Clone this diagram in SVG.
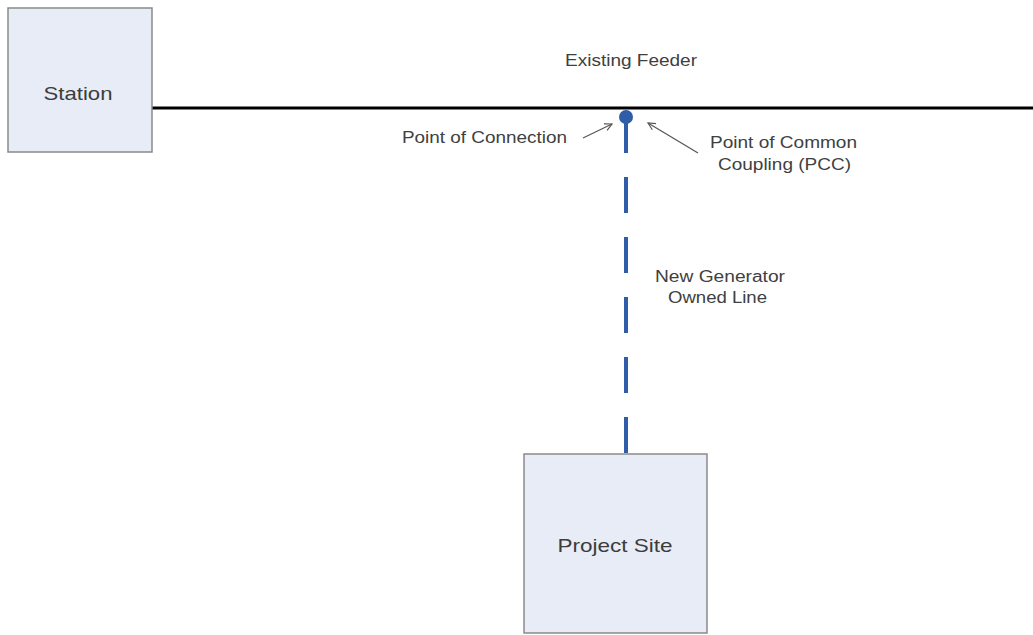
<svg xmlns="http://www.w3.org/2000/svg" width="1033" height="635" viewBox="0 0 1033 635">
  <style>
    .box { fill: #E8ECF6; stroke: #8A8A8A; stroke-width: 1.5; }
    .boxtext { font-family: "Liberation Sans", Arial, sans-serif; font-size: 19px; fill: #3C3C3C; text-anchor: middle; }
    .lbl { font-family: "Liberation Sans", Arial, sans-serif; font-size: 16px; fill: #404040; }
    .ptr { stroke: #555555; stroke-width: 1.2; fill: none; marker-end: url(#open); }
  </style>
  <defs>
    <marker id="open" viewBox="0 0 10 10" refX="9" refY="5" markerWidth="9" markerHeight="9" markerUnits="userSpaceOnUse" orient="auto">
      <path d="M1,1 L9,5 L1,9" fill="none" stroke="#555555" stroke-width="1.3"/>
    </marker>
  </defs>
  <rect width="1033" height="635" fill="#FFFFFF"/>

  <g id="connectors">
    <line x1="152" y1="108" x2="1033" y2="108" stroke="#000000" stroke-width="3"/>
    <line x1="626" y1="117" x2="626" y2="454" stroke="#2F5DA8" stroke-width="4" stroke-dasharray="36 24"/>
    <circle cx="626" cy="117" r="7" fill="#2F5DA8"/>
    <line class="ptr" x1="583" y1="138" x2="612" y2="124"/>
    <line class="ptr" x1="698" y1="153" x2="648" y2="123"/>
  </g>

  <g id="station">
    <rect class="box" x="8" y="8" width="144" height="144"/>
    <text class="boxtext" x="78" y="100" textLength="69" lengthAdjust="spacingAndGlyphs">Station</text>
  </g>

  <g id="project-site">
    <rect class="box" x="524" y="454" width="183" height="179"/>
    <text class="boxtext" x="615" y="552" textLength="115" lengthAdjust="spacingAndGlyphs">Project Site</text>
  </g>

  <g id="labels">
    <text class="lbl" x="565" y="66" textLength="132" lengthAdjust="spacingAndGlyphs">Existing Feeder</text>
    <text class="lbl" x="402" y="143" textLength="165" lengthAdjust="spacingAndGlyphs">Point of Connection</text>
    <text class="lbl" x="710" y="148" textLength="147" lengthAdjust="spacingAndGlyphs">Point of Common</text>
    <text class="lbl" x="718" y="170" textLength="133" lengthAdjust="spacingAndGlyphs">Coupling (PCC)</text>
    <text class="lbl" x="655" y="282" textLength="130" lengthAdjust="spacingAndGlyphs" fill="#4A5670">New Generator</text>
    <text class="lbl" x="668" y="303" textLength="99" lengthAdjust="spacingAndGlyphs" fill="#4A5670">Owned Line</text>
  </g>
</svg>
